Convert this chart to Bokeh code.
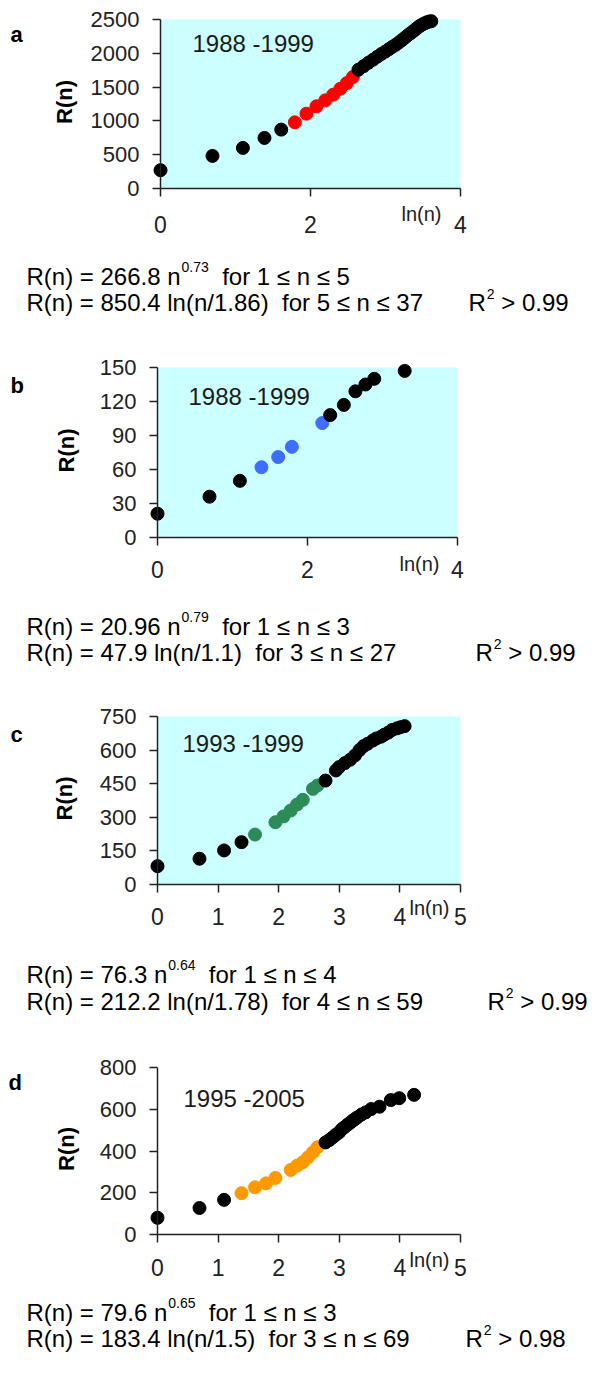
import numpy as np
from bokeh.plotting import figure
from bokeh.models import Label, BoxAnnotation, FixedTicker, Range1d, ColumnDataSource
from bokeh.layouts import column
from bokeh.embed import file_html
from bokeh.resources import INLINE

# ---------------- data ----------------
a_n = list(range(1, 38))
a_R = [271, 482, 600, 748, 871, 979, 1107, 1216, 1304, 1388, 1476, 1560, 1649,
       1757, 1810, 1860, 1905, 1950, 1990, 2025, 2060, 2095, 2125, 2160, 2195,
       2230, 2265, 2295, 2325, 2355, 2385, 2410, 2430, 2445, 2460, 2470, 2475]
a_hl = (6, 13)

b_n = [1, 2, 3, 4, 5, 6, 9, 10, 12, 14, 16, 18, 27]
b_R = [21, 36, 50, 62, 71, 80, 101, 108, 117, 129, 135, 140, 147]
b_hl = (4, 9)

c_n = [1, 2, 3, 4, 5, 7, 8, 9, 10, 11, 13, 14, 16, 19, 20, 22, 24, 26, 28, 30,
       32, 35, 37, 40, 42, 45, 48, 52, 55, 59]
c_R = [82, 115, 152, 189, 223, 278, 304, 330, 357, 378, 427, 442, 464, 509, 524,
       542, 557, 576, 600, 618, 628, 643, 652, 660, 668, 678, 690, 697, 702, 707]
c_hl = (5, 14)

d_n = [1, 2, 3, 4, 5, 6, 7, 9, 10, 11, 12, 13, 14, 16, 17, 18, 19, 20, 21, 22,
       23, 24, 25, 26, 27, 29, 31, 34, 39, 47, 54, 69]
d_R = [80, 127, 166, 198, 226, 245, 271, 309, 330, 346, 370, 394, 418, 441, 452,
       465, 478, 489, 505, 515, 526, 535, 545, 553, 561, 575, 585, 601, 612, 644,
       653, 669]
d_hl = (4, 14)

years = ["1988 -1999", "1988 -1999", "1993 -1999", "1995 -2005"]
letters = ["a", "b", "c", "d"]
x_ticks = [[0, 2, 4], [0, 2, 4], [0, 1, 2, 3, 4, 5], [0, 1, 2, 3, 4, 5]]
y_ticks = [[0, 500, 1000, 1500, 2000, 2500], [0, 30, 60, 90, 120, 150],
           [0, 150, 300, 450, 600, 750], [0, 200, 400, 600, 800]]

f1_main = ["R(n) = 266.8 n", "R(n) = 20.96 n", "R(n) = 76.3 n", "R(n) = 79.6 n"]
f1_exp = ["0.73", "0.79", "0.64", "0.65"]
f1_rest = ["for 1 \u2264 n \u2264 5", "for 1 \u2264 n \u2264 3",
           "for 1 \u2264 n \u2264 4", "for 1 \u2264 n \u2264 3"]
f2_text = ["R(n) = 850.4 ln(n/1.86)\u00a0 for 5 \u2264 n \u2264 37",
           "R(n) = 47.9 ln(n/1.1)\u00a0 for 3 \u2264 n \u2264 27",
           "R(n) = 212.2 ln(n/1.78)\u00a0 for 4 \u2264 n \u2264 59",
           "R(n) = 183.4 ln(n/1.5)\u00a0 for 3 \u2264 n \u2264 69"]
r2_text = ["> 0.99", "> 0.99", "> 0.99", "> 0.98"]
hl_colors = ["#FF0000", "#3D6EFF", "#2E8B57", "#FF9900"]

# ---------------- layout (page pixels) ----------------
FONT = "Liberation Sans"
W = 595
specs = [
    dict(top=0, h=340, x0=160, x1=460, xmax=4, y0=188, yt=19, ymax=2500, bg=True,
         letter=(10, 42), year=(192, 52), ylab=64, lnn=(401, 221), xstand=19,
         l1=285, l2=311, r2x=468),
    dict(top=340, h=350, x0=157, x1=457, xmax=4, y0=537, yt=367, ymax=150, bg=True,
         letter=(10, 393), year=(188, 405), ylab=66, lnn=(399, 571), xstand=15,
         l1=635, l2=661, r2x=475),
    dict(top=690, h=345, x0=157, x1=460, xmax=5, y0=884, yt=716, ymax=750, bg=True,
         letter=(10, 742), year=(182, 752), ylab=64, lnn=(409, 915), xstand=15,
         l1=983, l2=1010, r2x=487),
    dict(top=1035, h=341, x0=157, x1=460, xmax=5, y0=1234, yt=1067, ymax=800, bg=False,
         letter=(8, 1090), year=(183, 1107), ylab=66, lnn=(409, 1267), xstand=16,
         l1=1321, l2=1347, r2x=465),
]

CW = {c: 556 for c in "0123456789"}
CW.update({".": 278, " ": 278, "R": 722, "(": 333, ")": 333, "n": 556, "=": 584,
           "l": 222, "/": 278, "f": 278, "o": 556, "r": 333, "\u2264": 549, ">": 584})


def tw(s, size):
    return sum(CW.get(ch, 556) for ch in s) * size / 1000.0


datasets = [(a_n, a_R, a_hl), (b_n, b_R, b_hl), (c_n, c_R, c_hl), (d_n, d_R, d_hl)]
figs = []
for i, (s, (nn, RR, hl)) in enumerate(zip(specs, datasets)):
    top, h = s["top"], s["h"]
    bottom = top + h
    xpx = (s["x1"] - s["x0"]) / s["xmax"]
    ypx = (s["y0"] - s["yt"]) / s["ymax"]
    # the frame covers the whole canvas; the plot area sits at x0 / y0
    xr = Range1d(-s["x0"] / xpx, (W - s["x0"]) / xpx)
    yr = Range1d(-(bottom - s["y0"]) / ypx, (s["y0"] - top) / ypx)

    p = figure(width=W, height=h, x_range=xr, y_range=yr,
               min_border=0, min_border_left=0, min_border_right=0,
               min_border_top=0, min_border_bottom=0,
               output_backend="svg", toolbar_location=None,
               background_fill_color="white", border_fill_color="white",
               outline_line_color=None)
    p.xgrid.visible = False
    p.ygrid.visible = False

    if s["bg"]:
        p.add_layout(BoxAnnotation(left=0, right=s["xmax"], bottom=0, top=s["ymax"],
                                   fill_color="#CCFFFF", fill_alpha=1.0,
                                   line_color=None, level="underlay"))

    colors = [hl_colors[i] if hl[0] <= k <= hl[1] else "#000000" for k in nn]
    src = ColumnDataSource(dict(x=np.log(np.array(nn, dtype=float)), y=RR, c=colors))
    p.scatter("x", "y", source=src, size=13, fill_color="c", line_color="c")

    for ax in (p.xaxis[0], p.yaxis[0]):
        ax.axis_line_color = "#222222"
        ax.axis_line_width = 1.5
        ax.major_tick_line_color = "#222222"
        ax.major_tick_line_width = 1.5
        ax.major_tick_in = 0
        ax.major_tick_out = 8
        ax.minor_tick_line_color = None
        ax.major_label_text_font = FONT
        ax.major_label_text_color = "#222222"
        ax.fixed_location = 0
    p.xaxis[0].ticker = FixedTicker(ticks=x_ticks[i])
    p.xaxis[0].bounds = (0, s["xmax"])
    p.xaxis[0].major_label_text_font_size = "23px"
    p.xaxis[0].major_label_standoff = s["xstand"]
    p.yaxis[0].ticker = FixedTicker(ticks=y_ticks[i])
    p.yaxis[0].bounds = (0, s["ymax"])
    p.yaxis[0].major_label_text_font_size = "22px"
    p.yaxis[0].major_label_standoff = 13

    def lab(txt, px, py, size, bold=False, align="left", baseline="alphabetic", angle=0.0,
            color="#000000"):
        dy = 0.36 * size if baseline == "alphabetic" else 0.0
        p.add_layout(Label(x=px, y=bottom - py + dy, x_units="screen", y_units="screen",
                           text=txt, text_font=FONT, text_font_size="%gpx" % size,
                           text_font_style="bold" if bold else "normal",
                           text_align=align, text_baseline=baseline, angle=angle,
                           text_color=color))

    lab(letters[i], s["letter"][0], s["letter"][1], 22, bold=True)
    lab(years[i], s["year"][0], s["year"][1], 24, color="#1a1a1a")
    lab("R(n)", s["ylab"], (s["yt"] + s["y0"]) / 2 - 2, 22, bold=True, align="center",
        baseline="middle", angle=np.pi / 2)
    lab("ln(n)", s["lnn"][0], s["lnn"][1], 20, color="#222222")

    x_start = 26
    fs, es = 24, 14
    lab(f1_main[i], x_start, s["l1"], fs)
    ex = x_start + tw(f1_main[i], fs) + 1
    lab(f1_exp[i], ex, s["l1"] - 13, es)
    lab(f1_rest[i], ex + tw(f1_exp[i], es) + tw("  ", fs), s["l1"], fs)
    lab(f2_text[i], x_start, s["l2"], fs)
    lab("R", s["r2x"], s["l2"], fs)
    rx = s["r2x"] + tw("R", fs) + 1
    lab("2", rx, s["l2"] - 12, es)
    lab(r2_text[i], rx + tw("2", es) + tw(" ", fs), s["l2"], fs)

    figs.append(p)

layout = column(*figs, spacing=0)
open("out.html", "w").write(file_html(layout, INLINE))
